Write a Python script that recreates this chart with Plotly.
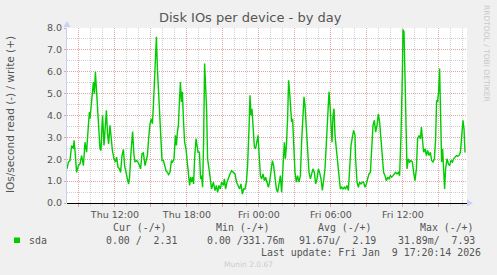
import plotly.graph_objects as go
import pandas as pd

# ---------------- data ----------------
START = "2026-01-08 08:00:14"
SPAN_MINUTES = 2000  # 400 samples x 5 min

minutes = [
    0, 7, 15, 23, 32, 35, 40, 48, 57, 65, 73, 82, 90, 98, 107, 112, 115, 123, 132, 137,
    142, 148, 153, 158, 165, 170, 175, 178, 185, 192, 197, 202, 208, 215, 220, 227, 235, 242, 248, 255,
    262, 268, 275, 282, 288, 295, 302, 308, 313, 320, 328, 335, 340, 348, 355, 362, 368, 375, 382, 390,
    395, 402, 408, 415, 422, 427, 432, 437, 442, 447, 452, 457, 462, 468, 475, 482, 488, 495, 502, 508,
    515, 522, 528, 535, 542, 547, 552, 557, 562, 567, 572, 577, 582, 588, 595, 602, 608, 613, 618, 623,
    628, 633, 638, 645, 650, 655, 662, 668, 673, 678, 683, 688,
    698, 703, 710, 717, 723, 732, 740, 747, 753, 760, 767, 773, 782, 787, 793, 800, 807, 815, 823, 832,
    840, 848, 857, 863, 870, 877, 883, 890, 897, 903, 910, 915, 920, 925, 930, 937, 943, 950, 955, 960,
    967, 973, 980, 987, 993, 1000, 1007, 1013, 1020, 1027, 1033, 1040, 1047, 1053, 1060, 1067, 1073, 1080, 1087, 1092,
    1097, 1103, 1108, 1113, 1118, 1123, 1128, 1133, 1140, 1147, 1153, 1160, 1167, 1173, 1180, 1185, 1190, 1197, 1203, 1210,
    1217, 1223, 1230, 1237, 1243, 1250, 1257, 1263, 1270, 1277, 1283, 1290, 1297, 1303, 1310, 1315, 1320, 1325, 1330, 1335,
    1340, 1347, 1353, 1360, 1367, 1373, 1380, 1387, 1393, 1400, 1407, 1413, 1420, 1427, 1433, 1440,
    1443, 1450, 1457, 1463, 1470, 1477, 1483, 1490, 1497, 1503, 1510, 1517, 1523, 1530, 1537, 1543, 1550, 1557, 1563, 1570,
    1577, 1583, 1590, 1597, 1603, 1610, 1617, 1623, 1630, 1637, 1643, 1650, 1657, 1663, 1670, 1677, 1680, 1685, 1690, 1695,
    1700, 1707, 1713, 1720, 1727, 1733, 1740, 1747, 1753, 1760, 1767, 1772, 1777, 1783, 1790, 1797, 1803, 1810, 1817, 1823,
    1830, 1837, 1843, 1848, 1853, 1858, 1863, 1868, 1873, 1878, 1883, 1888, 1893, 1900, 1907, 1913, 1920, 1927, 1933, 1940,
    1947, 1953, 1960, 1967, 1973, 1980, 1985, 1990,
]

write_iops = [
    1.56, 1.87, 1.94, 2.63, 2.48, 2.86, 2.40, 1.40, 1.71, 1.79, 2.17, 1.71, 2.78, 2.32, 3.55, 4.16, 3.85, 4.54, 5.53, 5.00,
    6.00, 5.08, 4.46, 3.55, 2.48, 2.40, 3.55, 4.00, 2.63, 3.55, 4.24, 3.24, 2.70, 3.55, 3.09, 2.40, 2.02, 1.87, 2.10, 1.64,
    1.56, 1.40, 2.17, 2.45, 1.71, 1.33, 1.10, 0.87, 1.18, 2.32, 3.27, 2.17, 1.87, 1.94, 1.87, 1.71, 1.56, 2.25, 2.29, 1.71,
    1.87, 2.17, 2.94, 3.62, 3.85, 3.62, 4.46, 5.69, 6.60, 7.60, 6.15, 5.23, 4.00, 2.94, 1.94, 1.94, 1.71, 1.48, 1.40, 1.30,
    1.40, 1.94, 1.87, 2.02, 3.09, 2.63, 3.24, 3.55, 4.62, 5.53, 4.62, 5.08, 3.85, 2.78, 2.48, 1.87, 1.40, 0.80, 1.18, 0.95,
    1.18, 0.87, 2.02, 2.94, 2.63, 2.32, 2.32, 1.10, 1.25, 0.72, 2.78, 6.38,
    4.31, 2.02, 1.56, 0.95, 0.64, 0.95, 0.57, 0.80, 0.49, 0.80, 0.64, 0.95, 0.80, 1.10, 0.64, 0.95, 1.18, 1.33, 1.48, 1.40,
    1.33, 0.95, 0.80, 0.64, 0.87, 0.41, 0.64, 0.64, 0.95, 1.71, 3.39, 4.92, 4.00, 4.31, 3.55, 2.55, 2.48, 2.78, 3.09, 2.32,
    1.25, 1.10, 1.33, 1.02, 1.18, 0.95, 0.72, 0.95, 1.40, 1.94, 1.71, 1.10, 0.64, 0.49, 0.95, 1.25, 0.49, 1.56, 2.78, 2.02,
    2.63, 3.85, 5.61, 5.08, 4.00, 3.70, 3.85, 2.63, 1.40, 0.95, 1.25, 0.95, 1.25, 2.78, 4.31, 4.85, 4.46, 3.55, 2.48, 1.40,
    1.10, 1.40, 1.56, 1.40, 0.87, 1.10, 1.56, 1.40, 1.10, 0.57, 0.95, 1.56, 2.78, 3.85, 5.08, 4.46, 3.55, 2.78, 4.00, 4.31,
    3.09, 2.32, 1.87, 1.25, 0.64, 0.72, 0.64, 0.72, 0.64, 0.80, 0.57, 1.71, 2.63, 3.01, 3.32, 3.09,
    2.02, 0.95, 0.72, 0.95, 0.87, 0.95, 0.95, 0.72, 0.87, 1.10, 1.33, 1.40, 2.32, 3.55, 3.78, 3.24, 3.55, 4.08, 3.70, 2.78,
    2.02, 1.40, 1.25, 1.02, 1.18, 1.10, 1.25, 1.18, 1.25, 1.33, 1.40, 1.33, 1.40, 1.25, 3.09, 6.00, 7.93, 7.83, 5.84, 2.94,
    1.56, 2.02, 1.87, 1.94, 1.87, 1.40, 1.02, 1.56, 2.94, 3.09, 2.94, 3.47, 2.94, 2.32, 2.48, 2.17, 2.40, 2.17, 2.32, 1.94,
    1.87, 2.02, 2.94, 4.69, 4.62, 5.08, 6.15, 3.85, 1.87, 2.48, 1.56, 0.64, 1.56, 2.02, 1.79, 1.71, 1.94, 1.87, 2.02, 2.10,
    2.17, 2.14, 2.17, 2.32, 3.09, 3.78, 3.39, 2.31,
]

SERIES_NAME = "sda"
TITLE = "Disk IOs per device - by day"
Y_TITLE = "IOs/second read (-) / write (+)"
TICK_TIMES = [
    "2026-01-08 09:00", "2026-01-08 12:00", "2026-01-08 15:00", "2026-01-08 18:00",
    "2026-01-08 21:00", "2026-01-09 00:00", "2026-01-09 03:00", "2026-01-09 06:00",
    "2026-01-09 09:00", "2026-01-09 12:00", "2026-01-09 15:00",
]
TICK_LABELS = ["", "Thu 12:00", "", "Thu 18:00", "", "Fri 00:00", "", "Fri 06:00", "", "Fri 12:00", ""]
LEGEND_HEADERS = ["Cur (-/+)", "Min (-/+)", "Avg (-/+)", "Max (-/+)"]
LEGEND_VALUES = ["0.00 /  2.31", "0.00 /331.76m", "91.67u/  2.19", "31.89m/  7.93"]
LAST_UPDATE = "Last update: Fri Jan  9 17:20:14 2026"
FOOTER = "Munin 2.0.67"
WATERMARK = "RRDTOOL / TOBI OETIKER"

# ---------------- layout geometry ----------------
W, H = 497, 275
L, R, T, B = 67, 30, 28, 72
PW, PH = W - L - R, H - T - B


def px(x):
    return (x - L) / PW


def py(y):
    return (H - B - y) / PH


def nb(s):
    return s.replace(" ", "\u00a0")


start = pd.Timestamp(START)
times = start + pd.to_timedelta(minutes, unit="m")
end = start + pd.Timedelta(minutes=SPAN_MINUTES)

FONT = "DejaVu Sans"
MONO = "DejaVu Sans Mono"
TXT = "#555555"
MGRID = "#e4a4a4"
GRID = "#cfcfcf"
AXIS = "#c9d0f6"
DASH = "1px,1px"

fig = go.Figure()
fig.add_trace(go.Scatter(
    x=times, y=write_iops, mode="lines", name=SERIES_NAME,
    line=dict(color="#00cc00", width=1.4), showlegend=False, hoverinfo="skip",
))

fig.update_layout(
    width=W, height=H,
    margin=dict(l=L, r=R, t=T, b=B, pad=0),
    paper_bgcolor="#f0f0f0", plot_bgcolor="#ffffff",
    font=dict(family=FONT, color=TXT),
    showlegend=False,
)

fig.update_xaxes(
    type="date", range=[start, end],
    tickmode="array", tickvals=TICK_TIMES, ticktext=TICK_LABELS,
    showgrid=True, gridcolor=MGRID, griddash=DASH, gridwidth=1,
    ticks="outside", ticklen=3, tickcolor=MGRID, tickwidth=1,
    tickfont=dict(family=FONT, size=9.5, color=TXT),
    showline=False, zeroline=False,
    minor=dict(tick0="2026-01-08 09:00", dtick=3600000, showgrid=True, gridcolor=GRID,
               griddash=DASH, gridwidth=1, ticks="outside", ticklen=2, tickcolor=GRID),
)

fig.update_yaxes(
    range=[0, 8], tick0=0, dtick=1, tickformat=".1f",
    showgrid=True, gridcolor=MGRID, griddash=DASH, gridwidth=1,
    ticks="outside", ticklen=2, tickcolor=MGRID,
    tickfont=dict(family=FONT, size=9.5, color=TXT),
    showline=True, linecolor=AXIS, linewidth=1,
    zeroline=True, zerolinecolor="#000000", zerolinewidth=1,
    minor=dict(tick0=0, dtick=0.5, showgrid=True, gridcolor=GRID, griddash=DASH, gridwidth=1),
)

ann = []
ann.append(dict(text=TITLE, x=px(250), y=py(18), xref="paper", yref="paper", showarrow=False,
                xanchor="center", yanchor="middle", font=dict(family=FONT, size=13, color=TXT)))
ann.append(dict(text=Y_TITLE, x=px(10), y=py(115), xref="paper", yref="paper", showarrow=False,
                textangle=-90, xanchor="center", yanchor="middle", font=dict(family=FONT, size=10.5, color=TXT)))
ann.append(dict(text=WATERMARK, x=px(487), y=py(53), xref="paper", yref="paper", showarrow=False,
                textangle=90, xanchor="center", yanchor="middle", font=dict(family=FONT, size=7.5, color="#c8c8c8")))

header_right = [169, 272, 374, 476]
value_right = [179, 286, 378, 477]
for h, xr in zip(LEGEND_HEADERS, header_right):
    ann.append(dict(text=nb(h), x=px(xr), y=py(227), xref="paper", yref="paper", showarrow=False,
                    xanchor="right", yanchor="middle", font=dict(family=MONO, size=9.9, color=TXT)))
for v, xr in zip(LEGEND_VALUES, value_right):
    ann.append(dict(text=nb(v), x=px(xr), y=py(240), xref="paper", yref="paper", showarrow=False,
                    xanchor="right", yanchor="middle", font=dict(family=MONO, size=9.9, color=TXT)))
ann.append(dict(text=SERIES_NAME, x=px(27), y=py(240), xref="paper", yref="paper", showarrow=False,
                xanchor="left", yanchor="middle", font=dict(family=MONO, size=9.9, color=TXT)))
ann.append(dict(text=nb(LAST_UPDATE), x=px(483), y=py(252), xref="paper", yref="paper", showarrow=False,
                xanchor="right", yanchor="middle", font=dict(family=MONO, size=9.9, color=TXT)))
ann.append(dict(text=FOOTER, x=px(248), y=py(264), xref="paper", yref="paper", showarrow=False,
                xanchor="center", yanchor="middle", font=dict(family=FONT, size=7.5, color="#cccccc")))
fig.update_layout(annotations=ann)

shapes = []
# legend colour swatch
shapes.append(dict(type="rect", xref="paper", yref="paper", x0=px(14), x1=px(20), y0=py(243), y1=py(237.5),
                   fillcolor="#00cc00", line=dict(width=0)))
# axis arrows
shapes.append(dict(type="path", xref="paper", yref="paper",
                   path=f"M {px(467)},{py(199.5)} L {px(473)},{py(203)} L {px(467)},{py(206.5)} Z",
                   fillcolor=AXIS, line=dict(width=0)))
shapes.append(dict(type="path", xref="paper", yref="paper",
                   path=f"M {px(63.5)},{py(27)} L {px(67)},{py(21)} L {px(70.5)},{py(27)} Z",
                   fillcolor=AXIS, line=dict(width=0)))
fig.update_layout(shapes=shapes)

fig.write_html("out.html")
